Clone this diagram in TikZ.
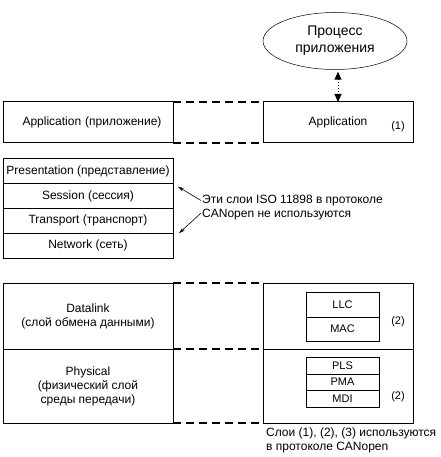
\documentclass[tikz,border=0pt]{standalone}
\usepackage{fontspec}
\setmainfont{Liberation Sans}
\usetikzlibrary{shapes.geometric,arrows.meta,positioning}

\begin{document}
\begin{tikzpicture}[x=1pt, y=-1pt,
    layer/.style={draw, line width=1pt, inner sep=0pt, outer sep=0pt, align=center, font=\fontsize{12}{14}\selectfont},
    sublayer/.style={draw, line width=0.8pt, inner sep=0pt, outer sep=0pt, minimum width=73pt, font=\fontsize{11}{13}\selectfont},
    gap/.style={line width=1.6pt, dash pattern=on 8pt off 5pt},
    mark label/.style={inner sep=0pt, font=\fontsize{11}{13}\selectfont},
    note/.style={inner sep=0pt, align=left, font=\fontsize{12}{14}\selectfont}]
  \useasboundingbox (0,0) rectangle (440,457);
  \node[ellipse, draw, line width=0.5pt, minimum width=144pt, minimum height=57pt, align=center, font=\fontsize{14}{17}\selectfont] (proc) at (335,41) {Процесс\\приложения};
  \node[layer, minimum width=170pt, minimum height=41pt, text width=170pt] (appL) at (88,122.5) {\hspace*{8pt}Application (приложение)};
  \node[layer, minimum width=150pt, minimum height=41pt] (appR) at (338,122.5) {Application};
  \node[mark label] (m1) at (398,127) {(1)};
  \draw[line width=1pt, dotted, {Triangle[width=7pt,length=8pt]}-{Triangle[width=7pt,length=8pt]}, shorten <=2pt] (proc.south -| appR.north) -- (appR.north);
  \draw[gap] (appL.north east) -- (appR.north west);
  \draw[gap] (appL.south east) -- (appR.south west);

  \node[layer, minimum width=170pt, minimum height=24.75pt] (pres) at (88,171.375) {Presentation (представление)};
  \node[layer, minimum width=170pt, minimum height=24.75pt, below=0pt of pres] (sess) {Session (сессия)};
  \node[layer, minimum width=170pt, minimum height=24.75pt, below=0pt of sess] (trans) {Transport (транспорт)};
  \node[layer, minimum width=170pt, minimum height=24.75pt, below=0pt of trans] (net) {Network (сеть)};
  \node[note, anchor=west] (unused) at (202,207.5) {Эти слои ISO 11898 в протоколе\\CANopen не используются};
  \coordinate (presTip) at ([shift={(5,3)}]pres.south east);
  \coordinate (transTip) at ([shift={(6,0)}]trans.south east);
  \draw[line width=0.6pt, -{Stealth[length=6pt,width=3.5pt]}] ([xshift=-1pt,yshift=7pt]unused.west) -- (presTip);
  \draw[line width=0.6pt, -{Stealth[length=6pt,width=3.5pt]}] ([xshift=-1pt,yshift=-5.5pt]unused.west) -- (transTip);

  \node[layer, minimum width=170pt, minimum height=66pt] (dlL) at (88,316) {Datalink\\(слой обмена данными)};
  \node[layer, minimum width=170pt, minimum height=74pt, below=0pt of dlL] (phL) {Physical\\(физический слой\\среды передачи)};
  \node[layer, minimum width=150pt, minimum height=66pt] (dlR) at (338,316) {};
  \node[layer, minimum width=150pt, minimum height=74pt, below=0pt of dlR] (phR) {};
  \draw[gap] (dlL.north east) -- (dlR.north west);
  \draw[gap] (dlL.south east) -- (dlR.south west);
  \draw[gap] (phL.south east) -- (phR.south west);

  \node[sublayer, minimum height=25pt] (llc) at (342.5,304.5) {LLC};
  \node[sublayer, minimum height=24pt, below=0pt of llc] (mac) {MAC};
  \node[sublayer, minimum height=17pt] (pls) at (342.5,365.5) {PLS};
  \node[sublayer, minimum height=16pt, below=0pt of pls] (pma) {PMA};
  \node[sublayer, minimum height=17pt, below=0pt of pma] (mdi) {MDI};
  \node[mark label] (m2) at (398,322) {(2)};
  \node[mark label] (m3) at (398,397) {(2)};

  \node[note, anchor=west, font=\fontsize{12}{14.5}\selectfont] (used) at (266,440.5) {Слои (1), (2), (3) используются\\в протоколе CANopen};
\end{tikzpicture}
\end{document}
